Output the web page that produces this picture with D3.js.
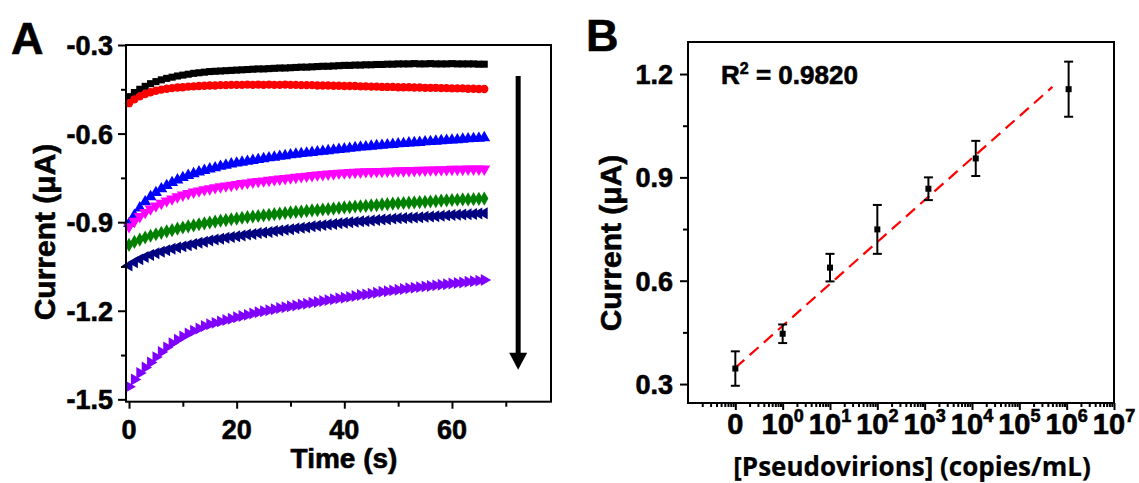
<!DOCTYPE html>
<html><head><meta charset="utf-8">
<script src="https://cdn.jsdelivr.net/npm/d3@7"></script>
<style>body{margin:0;background:#fff}svg{display:block}text{font-family:"Liberation Sans",Arial,sans-serif;font-weight:bold;fill:#000;stroke:#000;stroke-width:0.6px}</style>
</head><body><svg id="c" width="1139" height="483"></svg>
<script>
// ---------- Panel A data ----------
const timeS = [0,1,2,3,4,5,6,7,8,9,10,11,12,13,14,15,16,17,18,19,20,21,22,23,24,25,26,27,28,29,30,31,32,33,34,35,36,37,38,39,40,41,42,43,44,45,46,47,48,49,50,51,52,53,54,55,56,57,58,59,60,61,62,63,64,65,66];
const curBlack = [-0.475,-0.461,-0.450,-0.440,-0.431,-0.424,-0.418,-0.413,-0.409,-0.405,-0.402,-0.399,-0.396,-0.394,-0.392,-0.390,-0.389,-0.388,-0.387,-0.386,-0.385,-0.384,-0.383,-0.382,-0.381,-0.381,-0.380,-0.379,-0.378,-0.378,-0.377,-0.376,-0.375,-0.375,-0.374,-0.373,-0.372,-0.372,-0.371,-0.370,-0.369,-0.369,-0.368,-0.368,-0.367,-0.367,-0.366,-0.366,-0.365,-0.365,-0.364,-0.364,-0.364,-0.363,-0.364,-0.364,-0.363,-0.364,-0.364,-0.364,-0.363,-0.364,-0.364,-0.364,-0.364,-0.365,-0.365];
const curRed = [-0.497,-0.484,-0.474,-0.466,-0.460,-0.455,-0.451,-0.448,-0.446,-0.444,-0.443,-0.441,-0.440,-0.439,-0.438,-0.437,-0.437,-0.436,-0.436,-0.435,-0.435,-0.435,-0.434,-0.435,-0.434,-0.435,-0.434,-0.435,-0.435,-0.434,-0.435,-0.435,-0.436,-0.436,-0.436,-0.437,-0.437,-0.437,-0.438,-0.438,-0.439,-0.439,-0.439,-0.440,-0.440,-0.441,-0.441,-0.442,-0.442,-0.442,-0.443,-0.443,-0.443,-0.444,-0.444,-0.445,-0.445,-0.445,-0.446,-0.446,-0.447,-0.447,-0.447,-0.448,-0.448,-0.449,-0.449];
const curBlue = [-0.905,-0.877,-0.852,-0.831,-0.814,-0.800,-0.787,-0.776,-0.766,-0.757,-0.749,-0.742,-0.736,-0.730,-0.725,-0.720,-0.716,-0.711,-0.707,-0.703,-0.700,-0.697,-0.694,-0.691,-0.688,-0.685,-0.682,-0.680,-0.677,-0.675,-0.672,-0.670,-0.668,-0.666,-0.664,-0.662,-0.660,-0.658,-0.656,-0.654,-0.652,-0.650,-0.648,-0.646,-0.645,-0.643,-0.641,-0.640,-0.638,-0.637,-0.635,-0.634,-0.632,-0.631,-0.630,-0.628,-0.627,-0.626,-0.624,-0.623,-0.622,-0.621,-0.619,-0.618,-0.617,-0.616,-0.614];
const curMagenta = [-0.915,-0.897,-0.881,-0.867,-0.855,-0.845,-0.836,-0.828,-0.821,-0.814,-0.808,-0.803,-0.798,-0.794,-0.790,-0.787,-0.783,-0.780,-0.777,-0.775,-0.772,-0.769,-0.767,-0.764,-0.762,-0.760,-0.758,-0.756,-0.754,-0.752,-0.750,-0.748,-0.746,-0.744,-0.742,-0.740,-0.739,-0.737,-0.736,-0.734,-0.733,-0.732,-0.731,-0.730,-0.729,-0.729,-0.728,-0.728,-0.727,-0.727,-0.726,-0.726,-0.725,-0.725,-0.724,-0.724,-0.723,-0.723,-0.722,-0.722,-0.721,-0.721,-0.721,-0.720,-0.720,-0.720,-0.720];
const curGreen = [-0.977,-0.967,-0.959,-0.952,-0.946,-0.941,-0.936,-0.931,-0.927,-0.922,-0.918,-0.914,-0.911,-0.907,-0.904,-0.901,-0.898,-0.895,-0.893,-0.890,-0.888,-0.885,-0.883,-0.881,-0.879,-0.877,-0.875,-0.873,-0.871,-0.869,-0.867,-0.865,-0.864,-0.862,-0.860,-0.859,-0.857,-0.856,-0.854,-0.852,-0.850,-0.849,-0.847,-0.846,-0.845,-0.843,-0.842,-0.840,-0.839,-0.837,-0.836,-0.835,-0.834,-0.833,-0.832,-0.831,-0.830,-0.829,-0.827,-0.826,-0.825,-0.824,-0.823,-0.823,-0.822,-0.821,-0.820];
const curNavy = [-1.047,-1.036,-1.026,-1.018,-1.011,-1.005,-1.000,-0.995,-0.990,-0.986,-0.982,-0.978,-0.974,-0.970,-0.966,-0.962,-0.959,-0.956,-0.953,-0.950,-0.948,-0.945,-0.942,-0.940,-0.937,-0.935,-0.933,-0.930,-0.928,-0.926,-0.924,-0.921,-0.919,-0.917,-0.914,-0.912,-0.910,-0.908,-0.906,-0.904,-0.902,-0.900,-0.899,-0.897,-0.896,-0.894,-0.893,-0.891,-0.890,-0.888,-0.887,-0.886,-0.885,-0.884,-0.883,-0.882,-0.881,-0.880,-0.878,-0.877,-0.876,-0.875,-0.874,-0.873,-0.872,-0.871,-0.870];
const curViolet = [-1.457,-1.433,-1.411,-1.392,-1.375,-1.357,-1.340,-1.324,-1.310,-1.298,-1.287,-1.277,-1.268,-1.260,-1.252,-1.246,-1.241,-1.236,-1.231,-1.227,-1.222,-1.218,-1.214,-1.209,-1.205,-1.202,-1.198,-1.195,-1.191,-1.188,-1.185,-1.182,-1.179,-1.176,-1.173,-1.170,-1.167,-1.164,-1.161,-1.158,-1.156,-1.153,-1.150,-1.147,-1.145,-1.142,-1.139,-1.136,-1.134,-1.131,-1.129,-1.126,-1.124,-1.122,-1.120,-1.118,-1.116,-1.114,-1.112,-1.110,-1.108,-1.106,-1.104,-1.102,-1.100,-1.098,-1.096];
const seriesA = [curBlack, curRed, curBlue, curMagenta, curGreen, curNavy, curViolet];
const seriesColors = ["#000000","#ff0000","#0000ff","#ff00ff","#008000","#000080","#8000ff"];
const seriesShapes = ["square","circle","up","down","diamond","left","right"];
const aYTicks = [-1.5,-1.2,-0.9,-0.6,-0.3];
const aYMinor = [-1.35,-1.05,-0.75,-0.45];
const aXTicks = [0,20,40,60];
const aXMinor = [10,30,50,70];
const arrowTime = 72.3, arrowFrom = -0.405, arrowTo = -1.40;

// ---------- Panel B data ----------
const bConc = [0.1, 1, 10, 100, 1200, 12000, 1100000];
const bCurrent = [0.345, 0.446, 0.638, 0.749, 0.867, 0.955, 1.156];
const bErr = [0.050, 0.027, 0.040, 0.071, 0.033, 0.051, 0.080];
const bXTickExp = [-1,0,1,2,3,4,5,6,7];
const bXTickBase = ["0","10","10","10","10","10","10","10","10"];
const bXTickSup = ["","0","1","2","3","4","5","6","7"];
const bYTicks = [0.3,0.6,0.9,1.2];
const bYMinor = [0.45,0.75,1.05];
const fitIntercept = 0.469, fitSlope = 0.1217; // current = a + b*log10(conc)
const fitRange = [0.1, 500000];
const r2Text = "0.9820";

const svg = d3.select("#c");

// ================= Panel A =================
const xA = d3.scaleLinear().domain([-0.56, 78.4]).range([126, 551]);
const yA = d3.scaleLinear().domain([-1.508, -0.3]).range([401.7, 45]);
const gA = svg.append("g");

function symFor(shape, size){
  let t = d3.symbolTriangle, rot = 0;
  if (shape==="square") t = d3.symbolSquare;
  else if (shape==="circle") t = d3.symbolCircle;
  else if (shape==="diamond") t = d3.symbolDiamond;
  else if (shape==="down") rot = 180;
  else if (shape==="left") rot = -90;
  else if (shape==="right") rot = 90;
  return {path: d3.symbol().type(t).size(size)(), rot};
}
const sizes = {square:50, circle:55, up:62, down:62, diamond:58, left:62, right:62};
seriesA.forEach((vals, i) => {
  const s = symFor(seriesShapes[i], sizes[seriesShapes[i]]);
  gA.append("g").selectAll("path").data(vals).join("path")
    .attr("d", s.path)
    .attr("fill", seriesColors[i])
    .attr("transform", (d, j) => `translate(${xA(timeS[j])},${yA(d)}) rotate(${s.rot})`);
});

gA.append("g").attr("transform", `translate(${xA.range()[0]},0)`)
  .call(d3.axisLeft(yA).tickValues(aYTicks).tickSize(8).tickSizeOuter(0).tickFormat(""))
  .call(g => g.select(".domain").remove());
gA.append("g").attr("transform", `translate(${xA.range()[0]},0)`)
  .call(d3.axisLeft(yA).tickValues(aYMinor).tickSize(5).tickSizeOuter(0).tickFormat(""))
  .call(g => g.select(".domain").remove());
gA.append("g").attr("transform", `translate(0,${yA.range()[0]})`)
  .call(d3.axisBottom(xA).tickValues(aXTicks).tickSize(7).tickSizeOuter(0).tickFormat(""))
  .call(g => g.select(".domain").remove());
gA.append("g").attr("transform", `translate(0,${yA.range()[0]})`)
  .call(d3.axisBottom(xA).tickValues(aXMinor).tickSize(5).tickSizeOuter(0).tickFormat(""))
  .call(g => g.select(".domain").remove());
gA.selectAll(".tick line").attr("stroke", "#000").attr("stroke-width", 2);

gA.append("rect").attr("x", xA.range()[0]).attr("y", yA.range()[1])
  .attr("width", xA.range()[1]-xA.range()[0]).attr("height", yA.range()[0]-yA.range()[1])
  .attr("fill", "none").attr("stroke", "#000").attr("stroke-width", 2);

aYTicks.forEach(v => {
  gA.append("text").attr("x", 113).attr("y", yA(v)+10)
    .attr("text-anchor", "end").attr("font-size", 27).text(v.toFixed(1));
});
aXTicks.forEach(v => {
  gA.append("text").attr("x", xA(v)).attr("y", 439)
    .attr("text-anchor", "middle").attr("font-size", 27).text(v);
});
gA.append("text").attr("x", 344).attr("y", 468)
  .attr("text-anchor", "middle").attr("font-size", 28).text("Time (s)");
gA.append("text").attr("transform", `translate(55,232) rotate(-90)`)
  .attr("text-anchor", "middle").attr("font-size", 30).text("Current (μA)");
gA.append("text").attr("x", 11).attr("y", 54).attr("font-size", 45).text("A");

const ax = xA(arrowTime);
const headTop = yA(arrowTo) - 17;
gA.append("line").attr("x1", ax).attr("x2", ax).attr("y1", yA(arrowFrom)).attr("y2", headTop + 2)
  .attr("stroke", "#000").attr("stroke-width", 5);
gA.append("path").attr("d", `M${ax-9},${headTop}L${ax+9},${headTop}L${ax},${yA(arrowTo)}Z`).attr("fill", "#000");

// ================= Panel B =================
const xB = d3.scaleLog().domain([0.01, 1e7]).range([688, 1114]);
const yB = d3.scaleLinear().domain([0.245, 1.293]).range([403, 42]);
const gB = svg.append("g");

gB.append("g").attr("transform", `translate(${xB.range()[0]},0)`)
  .call(d3.axisLeft(yB).tickValues(bYTicks).tickSize(8).tickSizeOuter(0).tickFormat(""))
  .call(g => g.select(".domain").remove());
gB.append("g").attr("transform", `translate(${xB.range()[0]},0)`)
  .call(d3.axisLeft(yB).tickValues(bYMinor).tickSize(5).tickSizeOuter(0).tickFormat(""))
  .call(g => g.select(".domain").remove());
const majorB = bXTickExp.map(e => Math.pow(10, e));
const minorB = xB.ticks().filter(v => !majorB.some(m => Math.abs(m - v) / m < 1e-9) && v > 0.01 && v < 1e7);
gB.append("g").attr("transform", `translate(0,${yB.range()[0]})`)
  .call(d3.axisBottom(xB).tickValues(majorB).tickSize(7).tickSizeOuter(0).tickFormat(""))
  .call(g => g.select(".domain").remove());
gB.append("g").attr("transform", `translate(0,${yB.range()[0]})`)
  .call(d3.axisBottom(xB).tickValues(minorB).tickSize(4).tickSizeOuter(0).tickFormat(""))
  .call(g => g.select(".domain").remove());
gB.selectAll(".tick line").attr("stroke", "#000").attr("stroke-width", 2);

gB.append("rect").attr("x", xB.range()[0]).attr("y", yB.range()[1])
  .attr("width", xB.range()[1]-xB.range()[0]).attr("height", yB.range()[0]-yB.range()[1])
  .attr("fill", "none").attr("stroke", "#000").attr("stroke-width", 2);

bYTicks.forEach(v => {
  gB.append("text").attr("x", 673).attr("y", yB(v)+10).attr("text-anchor", "end")
    .attr("font-size", 27).text(v.toFixed(1));
});
bXTickExp.forEach((e, i) => {
  const t = gB.append("text").attr("x", xB(Math.pow(10, e))).attr("y", 434)
    .attr("text-anchor", "middle").attr("font-size", 29);
  t.append("tspan").text(bXTickBase[i]);
  if (bXTickSup[i]) t.append("tspan").attr("font-size", 18).attr("dy", -12).text(bXTickSup[i]);
});
gB.append("text").attr("transform", `translate(621,243) rotate(-90)`)
  .attr("text-anchor", "middle").attr("font-size", 30).text("Current (μA)");
gB.append("text").attr("x", 912).attr("y", 476).attr("text-anchor", "middle")
  .style("font-family", "'Open Sans', sans-serif").style("font-weight", 700).style("stroke-width", "0.2px")
  .attr("font-size", 26).text("[Pseudovirions] (copies/mL)");
gB.append("text").attr("x", 586).attr("y", 51).attr("font-size", 45).text("B");
const r2 = gB.append("text").attr("x", 721).attr("y", 84).attr("font-size", 26);
r2.append("tspan").text("R");
r2.append("tspan").attr("font-size", 16).attr("dy", -10).text("2");
r2.append("tspan").attr("dy", 10).text(" = " + r2Text);

gB.append("line")
  .attr("x1", xB(fitRange[0])).attr("y1", yB(fitIntercept + fitSlope*Math.log10(fitRange[0])))
  .attr("x2", xB(fitRange[1])).attr("y2", yB(fitIntercept + fitSlope*Math.log10(fitRange[1])))
  .attr("stroke", "#ff0000").attr("stroke-width", 2.2).attr("stroke-dasharray", "12,7");

const pts = gB.append("g").selectAll("g").data(bConc).join("g");
pts.append("line").attr("x1", d => xB(d)).attr("x2", d => xB(d))
  .attr("y1", (d, i) => yB(bCurrent[i] + bErr[i])).attr("y2", (d, i) => yB(bCurrent[i] - bErr[i]))
  .attr("stroke", "#000").attr("stroke-width", 2);
[1, -1].forEach(sg => {
  pts.append("line").attr("x1", d => xB(d) - 4.5).attr("x2", d => xB(d) + 4.5)
    .attr("y1", (d, i) => yB(bCurrent[i] + sg*bErr[i])).attr("y2", (d, i) => yB(bCurrent[i] + sg*bErr[i]))
    .attr("stroke", "#000").attr("stroke-width", 2);
});
pts.append("rect").attr("x", d => xB(d) - 3).attr("y", (d, i) => yB(bCurrent[i]) - 3)
  .attr("width", 6).attr("height", 6).attr("fill", "#000");
</script></body></html>
